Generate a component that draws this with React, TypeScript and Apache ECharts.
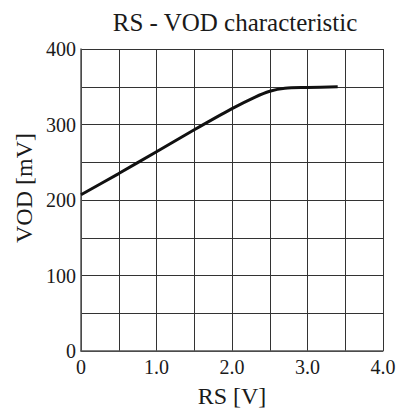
import React, { useEffect, useRef } from "react";
import * as echarts from "echarts";

const rsValues = [0, 0.5, 1.0, 1.5, 2.0, 2.3, 2.5, 2.7, 3.0, 3.4];
const vodValues = [207, 235, 264, 293, 321, 336, 344, 348, 349, 350];
const titleText = "RS - VOD characteristic";
const xName = "RS [V]";
const yName = "VOD [mV]";

export default function App() {
  const ref = useRef<HTMLDivElement>(null);
  useEffect(() => {
    const chart = echarts.init(ref.current!, undefined, { renderer: "svg" });
    const font = "Liberation Serif";
    const gridColor = "#333";
    const textColor = "#1a1a1a";
    chart.setOption({
      animation: false,
      backgroundColor: "#ffffff",
      title: {
        text: titleText,
        left: 230,
        textAlign: "center",
        top: 5,
        textStyle: { fontFamily: font, fontSize: 25, fontWeight: "normal", color: textColor },
      },
      grid: { left: 81, right: 17, top: 49, bottom: 66 },
      xAxis: {
        type: "value",
        min: 0,
        max: 4,
        interval: 0.5,
        name: xName,
        nameLocation: "middle",
        nameGap: 33,
        nameTextStyle: { fontFamily: font, fontSize: 24, color: textColor },
        axisLine: { show: true, lineStyle: { color: "#555", width: 1.5 } },
        axisTick: { show: false },
        axisLabel: {
          fontFamily: font,
          fontSize: 20,
          color: textColor,
          margin: 6,
          formatter: (v: number) => {
            if (Math.abs(v - Math.round(v)) > 1e-6) return "";
            return v === 0 ? "0" : v.toFixed(1);
          },
        },
        splitLine: { show: true, lineStyle: { color: gridColor, width: 1 } },
      },
      yAxis: {
        type: "value",
        min: 0,
        max: 400,
        interval: 50,
        axisLine: { show: true, lineStyle: { color: "#555", width: 1.5 } },
        axisTick: { show: false },
        axisLabel: {
          fontFamily: font,
          fontSize: 20,
          color: textColor,
          margin: 5,
          formatter: (v: number) => (v % 100 === 0 ? String(v) : ""),
        },
        splitLine: { show: true, lineStyle: { color: gridColor, width: 1 } },
      },
      graphic: [
        {
          type: "text",
          x: 24,
          y: 188,
          rotation: Math.PI / 2,
          style: {
            text: yName,
            font: `24px "${font}"`,
            fill: textColor,
            align: "center",
            verticalAlign: "middle",
          },
        },
      ],
      series: [
        {
          type: "line",
          data: rsValues.map((x, i) => [x, vodValues[i]]),
          smooth: 0.3,
          symbol: "none",
          lineStyle: { color: "#111", width: 3 },
        },
      ],
    });
    return () => chart.dispose();
  }, []);
  return (
    <div
      ref={ref}
      style={{ position: "fixed", left: 0, top: 0, width: 400, height: 417 }}
    />
  );
}
